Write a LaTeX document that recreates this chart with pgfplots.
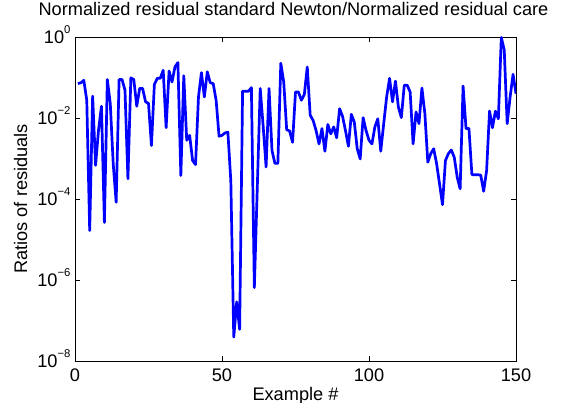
\documentclass[border=0pt]{standalone}
\usepackage{fontspec}
\setmainfont{Liberation Sans}
\usepackage{pgfplots}
\pgfplotsset{compat=1.18}
\newcommand{\ee}[1]{10\raisebox{9.8pt}{\fontsize{11.3}{12}\selectfont #1}}
\begin{document}
\fontsize{18.2}{21}\selectfont
\begin{tikzpicture}
\useasboundingbox (-75pt,-42pt) rectangle (487pt,361pt);
\begin{axis}[
  at={(0pt,0pt)}, anchor=south west,
  scale only axis, width=441pt, height=324pt,
  xmin=0, xmax=150, ymode=log, ymin=1e-8, ymax=1,
  xtick={0,50,100,150},
  ytick={1e-8,1e-6,1e-4,1e-2,1},
  yticklabels={\ee{−8},\ee{−6},\ee{−4},\ee{−2},\ee{0}},
  yminorticks=false,
  tick align=inside, xtick pos=both, ytick pos=both,
  major tick length=5pt,
  axis line style={line width=0.8pt},
  every tick/.style={black, line width=0.8pt},
  tick label style={font=\fontsize{18.2}{21}\selectfont},
  /pgf/number format/assume math mode=true,
  xticklabel style={anchor=base, yshift=-20.9pt},
  yticklabel style={anchor=base east, inner sep=0pt, xshift=-4.3pt, yshift=-6.2pt},
  title={Normalized residual standard Newton/Normalized residual care},
  title style={at={(axis description cs:0.4955,1.0475)}, anchor=base, inner sep=0pt, font=\fontsize{18.2}{21}\selectfont},
  xlabel={Example \#},
  xlabel style={at={(axis description cs:0.5,-0.1204)}, anchor=base, inner sep=0pt, font=\fontsize{18.2}{21}\selectfont},
  ylabel={Ratios of residuals},
  ylabel style={at={(axis description cs:-0.1088,0.5)}, anchor=base, rotate=0, inner sep=0pt, font=\fontsize{18.2}{21}\selectfont},
]
\addplot[blue, line width=2.7pt, line join=round] table {
x y
1 0.0708
2 0.0741
3 0.0851
4 0.0275
5 1.66e-5
6 0.0347
7 6.76e-4
8 5.01e-3
9 0.0195
10 2.63e-5
11 0.0891
12 0.0229
13 7.41e-4
14 8.32e-5
15 0.0891
16 0.0891
17 0.0490
18 3.16e-4
19 0.0977
20 0.0891
21 0.0195
22 0.0537
23 0.0537
24 0.0251
25 0.0229
26 2.09e-3
27 0.0676
28 0.0955
29 0.0955
30 0.151
31 5.75e-3
32 0.145
33 0.0776
34 0.182
35 0.234
36 3.80e-4
37 0.110
38 2.82e-3
39 3.72e-3
40 8.91e-4
41 7.08e-4
42 0.0331
43 0.132
44 0.0331
45 0.138
46 0.0741
47 0.0708
48 0.0275
49 3.55e-3
50 3.72e-3
51 4.27e-3
52 4.47e-3
53 2.82e-4
54 3.89e-8
55 2.88e-7
56 6.03e-8
57 0.0457
58 0.0457
59 0.0457
60 0.0562
61 6.46e-7
62 1.86e-4
63 0.0537
64 6.31e-3
65 6.17e-4
66 0.0537
67 1.58e-3
68 7.59e-4
69 7.59e-4
70 0.224
71 0.0776
72 5.13e-3
73 4.79e-3
74 2.51e-3
75 0.0437
76 0.0437
77 0.0275
78 0.0380
79 0.182
80 0.0117
81 8.71e-3
82 4.90e-3
83 2.29e-3
84 5.50e-3
85 1.51e-3
86 6.92e-3
87 4.07e-3
88 6.03e-3
89 3.24e-3
90 0.0170
91 0.0110
92 4.90e-3
93 2.00e-3
94 0.0123
95 7.94e-3
96 1.74e-3
97 9.77e-4
98 0.0102
99 4.90e-3
100 2.82e-3
101 2.29e-3
102 6.03e-3
103 9.55e-3
104 1.51e-3
105 7.24e-3
106 0.0331
107 0.0955
108 0.0251
109 0.0813
110 0.0186
111 0.0102
112 0.0646
113 0.0646
114 0.0437
115 2.29e-3
116 0.0141
117 7.24e-3
118 0.0550
119 0.0129
120 8.13e-4
121 1.32e-3
122 1.74e-3
123 7.41e-4
124 2.34e-4
125 7.24e-5
126 8.91e-4
127 1.32e-3
128 1.62e-3
129 1.07e-3
130 3.47e-4
131 1.78e-4
132 0.0617
133 5.50e-3
134 5.50e-3
135 3.98e-4
136 3.98e-4
137 3.98e-4
138 3.89e-4
139 1.55e-4
140 5.01e-4
141 0.0148
142 5.75e-3
143 0.0148
144 9.55e-3
145 0.977
146 0.479
147 7.24e-3
148 0.0331
149 0.120
150 0.0398
};
\end{axis}
\end{tikzpicture}
\end{document}
